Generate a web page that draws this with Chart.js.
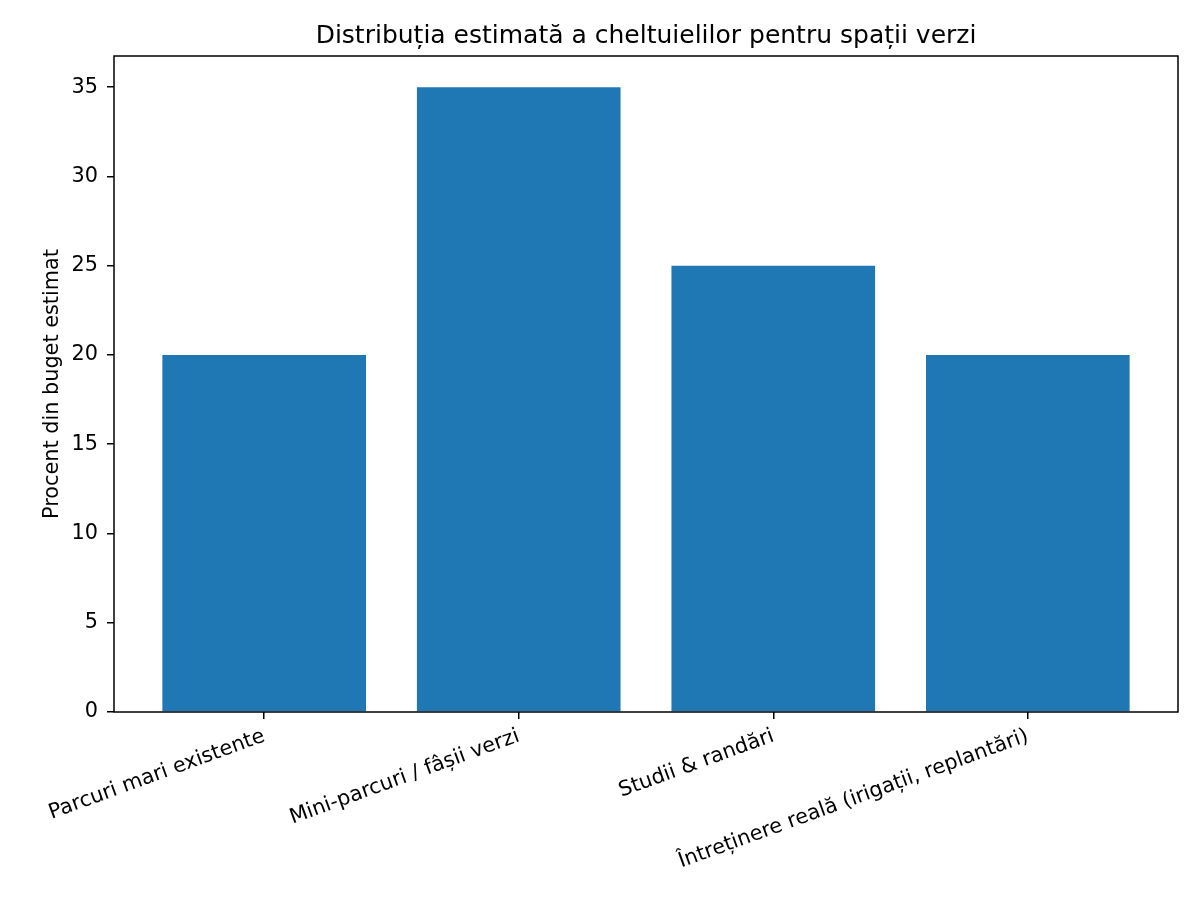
<!DOCTYPE html>
<html>
<head>
<meta charset="utf-8">
<script src="https://cdn.jsdelivr.net/npm/chart.js@4/dist/chart.umd.min.js"></script>
<style>
  html, body { margin: 0; padding: 0; background: #fff; }
  #wrap { width: 1200px; height: 900px; }
</style>
</head>
<body>
<div id="wrap"><canvas id="chart" width="1200" height="900"></canvas></div>
<script>
// date
const categories = [
    'Parcuri mari existente',
    'Mini-parcuri / fâșii verzi',
    'Studii & randări',
    'Întreținere reală (irigații, replantări)'
];
const budgetShare = [20, 35, 25, 20];
const yTicks = [0, 5, 10, 15, 20, 25, 30, 35];

const chartTitle = 'Distribuția estimată a cheltuielilor pentru spații verzi';
const yLabel = 'Procent din buget estimat';

Chart.defaults.font.family = '"DejaVu Sans", sans-serif';
Chart.defaults.color = '#000';

// chenar complet in jurul zonei de desen (ca in matplotlib)
const frame = {
    id: 'frame',
    afterDraw(chart) {
        const a = chart.chartArea;
        const ctx = chart.ctx;
        ctx.save();
        ctx.strokeStyle = '#000';
        ctx.lineWidth = 1.5;
        ctx.strokeRect(a.left, a.top, a.right - a.left, a.bottom - a.top);
        ctx.restore();
    }
};

const barData = categories.map((c, i) => ({ x: i, y: budgetShare[i] }));

new Chart(document.getElementById('chart'), {
    type: 'bar',
    data: {
        datasets: [{
            data: barData,
            backgroundColor: '#1f77b4',
            borderWidth: 0,
            barPercentage: 1,
            categoryPercentage: 0.8
        }]
    },
    options: {
        responsive: false,
        animation: false,
        layout: { padding: { left: 0, right: 22, top: 0, bottom: 0 } },
        scales: {
            x: {
                type: 'linear',
                min: -0.59,
                max: 3.59,
                offset: false,
                afterBuildTicks: function (scale) {
                    scale.ticks = categories.map((c, i) => ({ value: i }));
                },
                afterFit: function (scale) {
                    scale.height = 188;
                },
                grid: {
                    display: true,
                    offset: false,
                    drawOnChartArea: false,
                    drawTicks: true,
                    tickLength: 7,
                    lineWidth: 1.5,
                    color: '#000'
                },
                border: { display: false },
                ticks: {
                    autoSkip: false,
                    minRotation: 20,
                    maxRotation: 20,
                    padding: 5,
                    font: { size: 20.8 },
                    callback: function (value) {
                        return categories[value];
                    }
                }
            },
            y: {
                min: 0,
                max: 36.75,
                afterBuildTicks: function (scale) {
                    scale.ticks = yTicks.map(v => ({ value: v }));
                },
                afterFit: function (scale) {
                    scale.width = 114;
                },
                grid: {
                    display: true,
                    drawOnChartArea: false,
                    drawTicks: true,
                    tickLength: 7,
                    lineWidth: 1.5,
                    color: '#000'
                },
                border: { display: false },
                ticks: {
                    padding: 9,
                    font: { size: 20.8 }
                },
                title: {
                    display: true,
                    text: yLabel,
                    font: { size: 20.8 },
                    padding: { top: 40, bottom: 0 }
                }
            }
        },
        plugins: {
            legend: { display: false },
            tooltip: { enabled: false },
            title: {
                display: true,
                text: chartTitle,
                fullSize: false,
                font: { size: 25, weight: 'normal' },
                padding: { top: 21, bottom: 5 }
            }
        }
    },
    plugins: [frame]
});
</script>
</body>
</html>
